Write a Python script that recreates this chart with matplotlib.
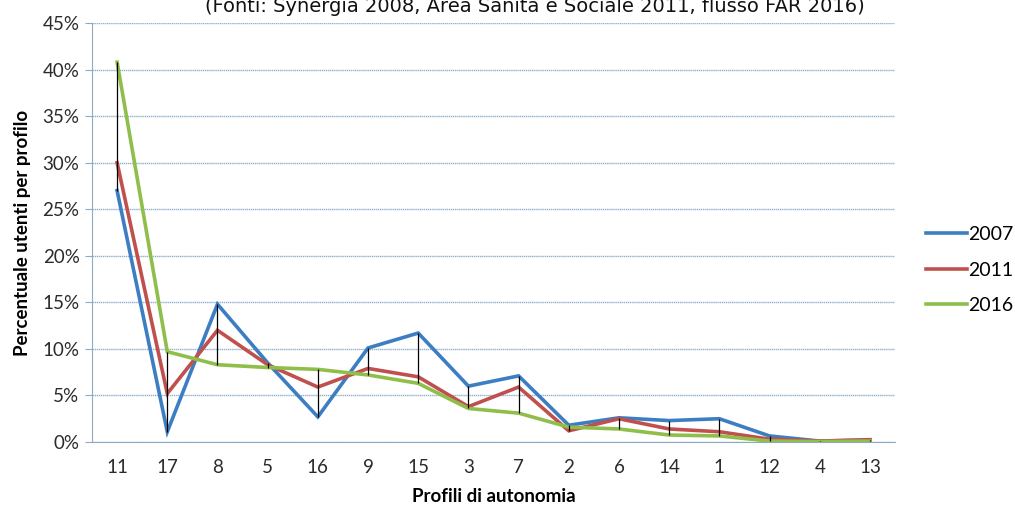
import matplotlib.pyplot as plt
import numpy as np
from matplotlib.ticker import FuncFormatter

# Profili di autonomia (ordine come nel grafico)
profili = ["11", "17", "8", "5", "16", "9", "15", "3", "7", "2", "6", "14", "1", "12", "4", "13"]

# percentuale utenti per profilo
v2007 = [27.0, 1.1, 14.8, 8.5, 2.7, 10.1, 11.7, 6.0, 7.1, 1.8, 2.6, 2.3, 2.5, 0.65, 0.1, 0.2]
v2011 = [30.0, 5.2, 12.0, 8.3, 5.9, 7.9, 7.0, 3.8, 5.9, 1.2, 2.5, 1.4, 1.1, 0.3, 0.1, 0.25]
v2016 = [40.8, 9.7, 8.3, 8.0, 7.8, 7.2, 6.3, 3.6, 3.1, 1.6, 1.4, 0.75, 0.65, 0.1, 0.05, 0.1]

anni = ["2007", "2011", "2016"]
colori = ["#3d7ec3", "#c0504d", "#8fbf4a"]

f = plt.figure(figsize=(10.15, 5.08), dpi=100)
ax = f.add_axes([92 / 1015, (508 - 442) / 508, (895 - 92) / 1015, (442 - 23) / 508])

x = np.arange(len(profili))
serie = np.array([v2007, v2011, v2016])

# high-low lines
ax.vlines(x, serie.min(axis=0), serie.max(axis=0), color="black", lw=0.9, zorder=4)

for vals, anno, col in zip(serie, anni, colori):
    ax.plot(x, vals, "-", color=col, lw=2.6, label=anno, zorder=3, solid_joinstyle="miter")

ax.set_xlim(-0.5, len(profili) - 0.5)
ax.set_ylim(0, 45)
ax.set_yticks(np.arange(0, 46, 5))
ax.yaxis.set_major_formatter(FuncFormatter(lambda v, p: "%d%%" % v))
ax.set_xticks(x)
ax.set_xticklabels(profili)

ax.grid(axis="y", color="#8fb1cc", lw=1.0, linestyle=(0, (1, 0.5)), zorder=0)
ax.set_axisbelow(True)

for s in ["top", "right"]:
    ax.spines[s].set_visible(False)
ax.spines["left"].set_color("#8eaac2")
ax.spines["bottom"].set_color("#8eaac2")
ax.tick_params(axis="y", colors="#8eaac2", labelcolor="#2b2b2b", labelsize=13.5, length=5, pad=4)
ax.tick_params(axis="x", length=0, labelcolor="#2b2b2b", labelsize=13.5, pad=12)

fnt = "Lato"
for lab in ax.get_xticklabels() + ax.get_yticklabels():
    lab.set_family(fnt)

ax.set_xlabel("Profili di autonomia", fontsize=13.5, fontweight="bold", family=fnt, labelpad=9)
ax.set_ylabel("Percentuale utenti per profilo", fontsize=13.5, fontweight="bold", family=fnt, labelpad=8)

leg = ax.legend(loc="center left", bbox_to_anchor=(926 / 1015, (508 - 270) / 508),
                bbox_transform=f.transFigure, frameon=False, borderpad=0, borderaxespad=0,
                prop={"family": fnt, "size": 14}, handlelength=2.1, handletextpad=0.05,
                labelspacing=0.95)

f.text(0.527, 1.0 - 12 / 508, "(Fonti: Synergia 2008, Area Sanità e Sociale 2011, flusso FAR 2016)",
       ha="center", va="baseline", fontsize=14, color="#111111")

plt.savefig("out.png", dpi=100)
plt.close(f)
